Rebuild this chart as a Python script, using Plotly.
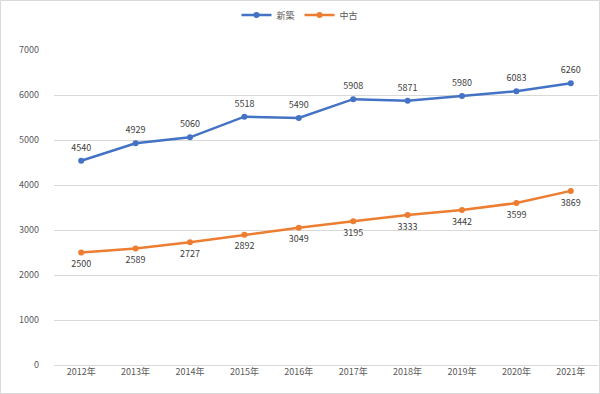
import plotly.graph_objects as go

years = ["2012年", "2013年", "2014年", "2015年", "2016年", "2017年", "2018年", "2019年", "2020年", "2021年"]
shinchiku = [4540, 4929, 5060, 5518, 5490, 5908, 5871, 5980, 6083, 6260]
chuko = [2500, 2589, 2727, 2892, 3049, 3195, 3333, 3442, 3599, 3869]
series_names = ["新築", "中古"]

FONT = "Noto Sans CJK JP"
L, R, T, B = 54, 2, 50, 29
W, H = 600, 394
pw = W - L - R
ph = H - T - B

fig = go.Figure()
for vals, name, color, pos in [(shinchiku, series_names[0], "#4472C4", "top center"),
                               (chuko, series_names[1], "#ED7D31", "bottom center")]:
    fig.add_trace(go.Scatter(
        x=years, y=vals, name=name, mode="lines+markers",
        line=dict(color=color, width=2.5), marker=dict(size=6, color=color),
    ))
    # data labels (invisible larger markers to set label offset)
    fig.add_trace(go.Scatter(
        x=years, y=vals, mode="markers+text", showlegend=False, hoverinfo="skip",
        marker=dict(size=11, color="rgba(0,0,0,0)"),
        text=[str(v) for v in vals], textposition=pos,
        textfont=dict(family=FONT, size=9, color="#404040"),
    ))

fig.update_layout(
    width=W, height=H,
    margin=dict(l=L, r=R, t=T, b=B, autoexpand=False),
    paper_bgcolor="white", plot_bgcolor="white",
    font=dict(family=FONT, size=9, color="#595959"),
    legend=dict(orientation="h", x=(300 - L) / pw, xanchor="center",
                y=1 + (T - 15) / ph, yanchor="middle",
                font=dict(family=FONT, size=9, color="#595959"),
                itemwidth=30, tracegroupgap=0),
    xaxis=dict(range=[-0.5, len(years) - 0.5], showgrid=False, showline=False, ticks="",
               zeroline=False, automargin=False,
               tickfont=dict(family=FONT, size=9, color="#595959")),
    yaxis=dict(range=[0, 7000], dtick=1000, showgrid=True, gridcolor="#D9D9D9",
               gridwidth=1, zeroline=True, zerolinecolor="#D9D9D9", zerolinewidth=1,
               showline=False, ticks="", ticklabelstandoff=14, automargin=False,
               tickfont=dict(family=FONT, size=9, color="#595959")),
    showlegend=True,
)

fig.add_shape(type="rect", xref="paper", yref="paper",
              x0=(0.5 - L) / pw, x1=(W - 0.5 - L) / pw,
              y0=-(B - 0.5) / ph, y1=1 + (T - 0.5) / ph,
              line=dict(color="#D9D9D9", width=1), fillcolor="rgba(0,0,0,0)", layer="below")

fig.write_html("out.html", config={"displayModeBar": False},
               post_script="document.body.style.margin='0';document.body.style.padding='0';")
